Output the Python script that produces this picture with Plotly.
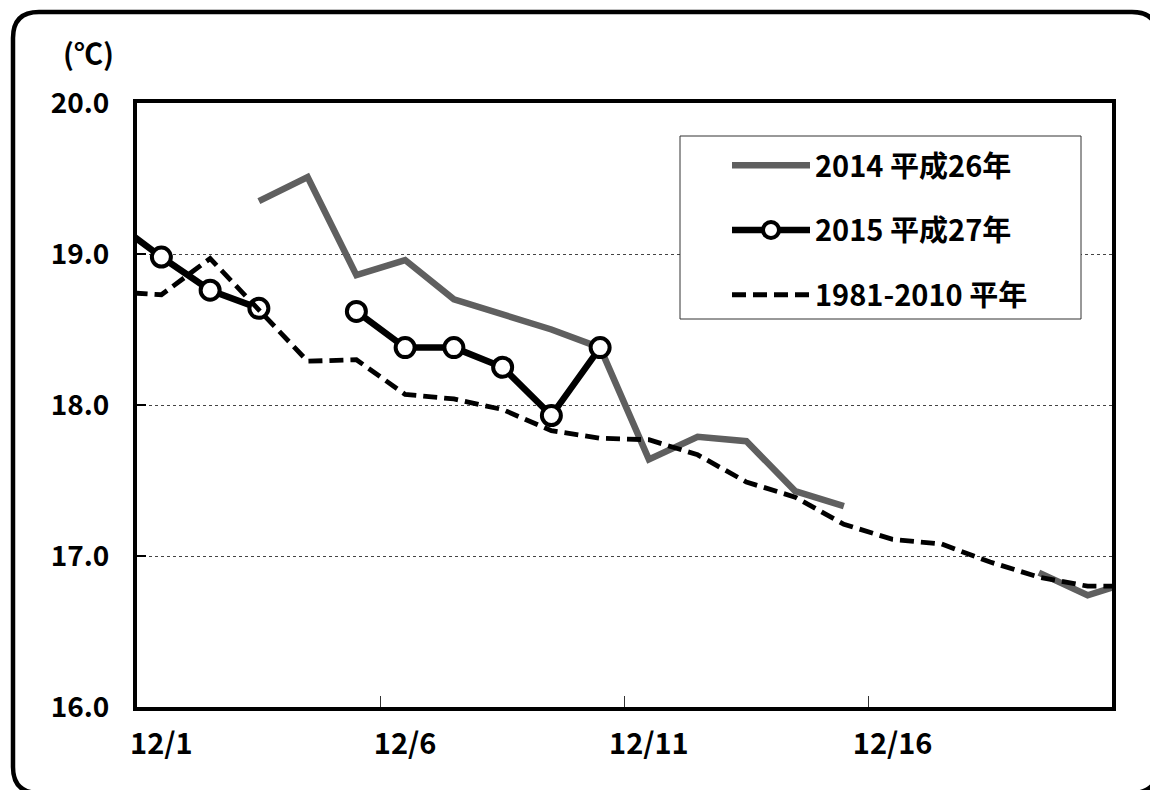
import plotly.graph_objects as go

# ---- data -------------------------------------------------------------
# day index: 0 = 11/30 (clipped), 1..20 = 12/1..12/20, 21 = 12/21 (clipped)
days = list(range(0, 22))
tick_days = [1, 6, 11, 16]
tick_labels = ["12/1", "12/6", "12/11", "12/16"]
boundary_ticks = [5.5, 10.5, 15.5]

t2014 = [None, None, None, 19.35, 19.51, 18.86, 18.96, 18.70, 18.60, 18.50,
         18.38, 17.64, 17.79, 17.76, 17.43, 17.33, None, None, None, 16.89,
         16.74, 16.84]
t2015 = [19.22, 18.98, 18.76, 18.64, None, 18.62, 18.38, 18.38, 18.25, 17.93,
         18.38, None, None, None, None, None, None, None, None, None, None, None]
normal = [18.75, 18.73, 18.97, 18.63, 18.29, 18.30, 18.07, 18.04, 17.97, 17.83,
          17.78, 17.77, 17.67, 17.49, 17.39, 17.21, 17.11, 17.08, 16.96, 16.86,
          16.80, 16.80]

names = ["2014 平成26年", "2015 平成27年", "1981-2010 平年"]

# ---- layout geometry (pixels) ----------------------------------------
W, H = 1150, 790
PL, PR, PT, PB = 137, 1112, 103, 707


def px(x):
    return (x - PL) / (PR - PL)


def py(y):
    return (PB - y) / (PB - PT)


FONT = "Noto Sans CJK JP, Noto Sans, sans-serif"

fig = go.Figure()
fig.add_trace(go.Scatter(
    x=days, y=t2014, name=names[0], mode="lines", legendgroup="a",
    line=dict(color="#5f5f5f", width=6.5), connectgaps=False,
))
fig.add_trace(go.Scatter(
    x=days, y=t2015, name=names[1], mode="lines+markers", legendgroup="b",
    line=dict(color="#000000", width=6.5), connectgaps=False,
    marker=dict(symbol="circle", size=19, color="white",
                line=dict(color="black", width=4)),
))
fig.add_trace(go.Scatter(
    x=days, y=normal, name=names[2], mode="lines", legendgroup="c",
    line=dict(color="#000000", width=4.8, dash="14px,7px"),
))
# helper trace to carry the boundary tick axis
fig.add_trace(go.Scatter(x=[None], y=[None], xaxis="x2", showlegend=False,
                         hoverinfo="skip"))

# rounded outer frame
x0, y0, x1, y1, r = 13, 12, 1158, 793, 26
pts = [
    ("M", (x0 + r, y0)), ("L", (x1 - r, y0)), ("Q", (x1, y0), (x1, y0 + r)),
    ("L", (x1, y1 - r)), ("Q", (x1, y1), (x1 - r, y1)),
    ("L", (x0 + r, y1)), ("Q", (x0, y1), (x0, y1 - r)),
    ("L", (x0, y0 + r)), ("Q", (x0, y0), (x0 + r, y0)),
]
path = ""
for seg in pts:
    cmd = seg[0]
    coords = " ".join(f"{px(a):.5f},{py(b):.5f}" for a, b in seg[1:])
    path += f"{cmd} {coords} "
path += "Z"

shapes = [
    dict(type="path", xref="paper", yref="paper", path=path,
         line=dict(color="black", width=4.5), fillcolor="rgba(0,0,0,0)",
         layer="above"),
    dict(type="rect", xref="paper", yref="paper",
         x0=px(680), x1=px(1081), y0=py(319), y1=py(136),
         line=dict(color="#333333", width=1), fillcolor="white",
         layer="above"),
]

fig.update_layout(
    width=W, height=H,
    margin=dict(l=PL, r=W - PR, t=PT, b=H - PB, pad=0),
    paper_bgcolor="white", plot_bgcolor="white",
    font=dict(family=FONT, size=28, color="black", weight="bold"),
    showlegend=True,
    legend=dict(
        x=px(727), y=py(140), xanchor="left", yanchor="top",
        xref="paper", yref="paper",
        bgcolor="rgba(0,0,0,0)", borderwidth=0,
        font=dict(family=FONT, size=29, color="black", weight="bold"),
        itemwidth=78, tracegroupgap=24, traceorder="grouped",
    ),
    xaxis=dict(
        range=[0.5, 20.5], tickmode="array", tickvals=tick_days,
        ticktext=tick_labels, ticks="", showgrid=False, zeroline=False,
        showline=True, linecolor="black", linewidth=4, mirror=True,
        ticklabelstandoff=8,
        tickfont=dict(family=FONT, size=29, color="black", weight="bold"),
    ),
    xaxis2=dict(
        range=[0.5, 20.5], overlaying="x", side="bottom", tickmode="array",
        tickvals=boundary_ticks, ticks="inside", ticklen=11, tickwidth=1,
        tickcolor="#333333", showticklabels=False, showgrid=False,
        zeroline=False, showline=False,
    ),
    yaxis=dict(
        range=[16, 20], dtick=1, tick0=16, tickformat=".1f",
        ticks="inside", ticklen=9, tickwidth=1.5, tickcolor="black",
        showgrid=True, gridcolor="#444444", gridwidth=1, griddash="dot",
        zeroline=False, showline=True, linecolor="black", linewidth=4,
        mirror=True, ticklabelstandoff=18,
        tickfont=dict(family=FONT, size=28, color="black", weight="bold"),
    ),
    shapes=shapes,
    annotations=[dict(
        xref="paper", yref="paper", x=px(88), y=py(52), text="(℃)",
        showarrow=False, xanchor="center", yanchor="middle",
        font=dict(family=FONT, size=29, color="black", weight="bold"),
    )],
)

fig.write_html(
    "out.html",
    config={"displayModeBar": False},
    post_script="document.body.style.margin='0px';"
                "document.body.style.overflow='hidden';",
)
